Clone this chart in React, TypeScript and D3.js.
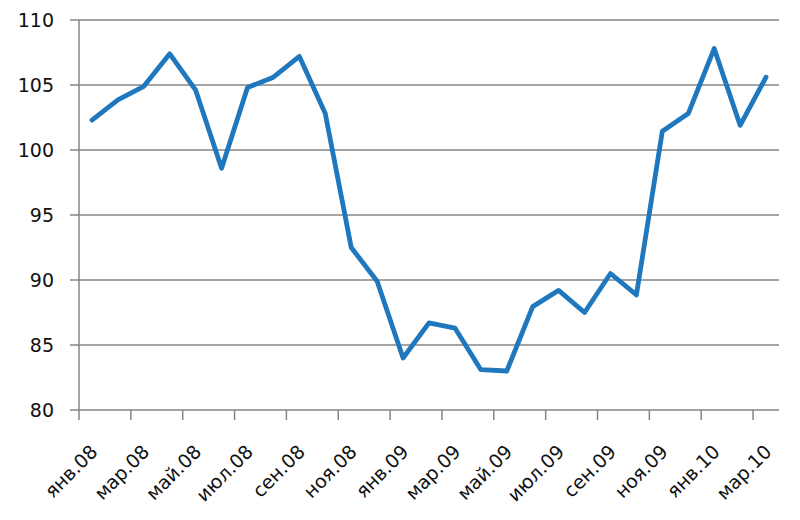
import React, { useEffect, useRef } from 'react';
import * as d3 from 'd3';

const months = ['янв', 'фев', 'мар', 'апр', 'май', 'июн', 'июл', 'авг', 'сен', 'окт', 'ноя', 'дек'];
const categories: string[] = [
  ...months.map(m => `${m}.08`),
  ...months.map(m => `${m}.09`),
  'янв.10', 'фев.10', 'мар.10',
];
const values = [
  102.3, 103.85, 104.9, 107.4, 104.6, 98.6, 104.8, 105.6, 107.2, 102.8, 92.5, 89.9,
  84.0, 86.7, 86.3, 83.1, 83.0, 87.95, 89.2, 87.5, 90.5, 88.85, 101.45, 102.8,
  107.8, 101.9, 105.6,
];
const yTicks = [80, 85, 90, 95, 100, 105, 110];

export default function App() {
  const svgRef = useRef<SVGSVGElement>(null);

  useEffect(() => {
    if (!svgRef.current) return;
    const svg = d3.select(svgRef.current);
    svg.selectAll('*').remove();

    const left = 79, right = 779, top = 20, bottom = 410;
    const font = '"DejaVu Sans", Verdana, sans-serif';
    const grey = '#868686';

    const x = d3.scaleBand<string>().domain(categories).range([left, right]).padding(0);
    const y = d3.scaleLinear().domain([80, 110]).range([bottom, top]);

    // horizontal gridlines
    svg.append('g')
      .selectAll('line')
      .data(yTicks)
      .enter()
      .append('line')
      .attr('x1', left - 9)
      .attr('x2', right)
      .attr('y1', d => y(d))
      .attr('y2', d => y(d))
      .attr('stroke', grey)
      .attr('stroke-width', 1.5);

    // y labels
    svg.append('g')
      .selectAll('text')
      .data(yTicks)
      .enter()
      .append('text')
      .attr('x', 54)
      .attr('y', d => y(d))
      .attr('dy', '0.36em')
      .attr('text-anchor', 'end')
      .attr('font-family', font)
      .attr('font-size', 19)
      .attr('fill', '#111')
      .text(d => d);

    // vertical axis
    svg.append('line')
      .attr('x1', left).attr('x2', left)
      .attr('y1', top).attr('y2', bottom)
      .attr('stroke', grey).attr('stroke-width', 1.5);

    // x ticks every 2 months, on category boundaries
    const tickCats = categories.filter((_, i) => i % 2 === 0);
    svg.append('g')
      .selectAll('line')
      .data(tickCats)
      .enter()
      .append('line')
      .attr('x1', d => x(d)!)
      .attr('x2', d => x(d)!)
      .attr('y1', bottom)
      .attr('y2', bottom + 10)
      .attr('stroke', grey)
      .attr('stroke-width', 1.5);

    // x labels, rotated
    svg.append('g')
      .selectAll('text')
      .data(tickCats)
      .enter()
      .append('text')
      .attr('transform', d => `translate(${x(d)! + x.bandwidth() / 2 + 2},${bottom + 38}) rotate(-45)`)
      .attr('dy', '0.36em')
      .attr('text-anchor', 'end')
      .attr('font-family', font)
      .attr('font-size', 19)
      .attr('fill', '#111')
      .text(d => d);

    // series line
    const line = d3.line<number>()
      .x((_, i) => x(categories[i])! + x.bandwidth() / 2)
      .y(d => y(d));

    svg.append('path')
      .datum(values)
      .attr('d', line)
      .attr('fill', 'none')
      .attr('stroke', '#1f77bd')
      .attr('stroke-width', 4.8)
      .attr('stroke-linejoin', 'round')
      .attr('stroke-linecap', 'round');
  }, []);

  return (
    <svg
      ref={svgRef}
      width={800}
      height={520}
      style={{ position: 'absolute', left: 0, top: 0, background: '#fff' }}
    />
  );
}
